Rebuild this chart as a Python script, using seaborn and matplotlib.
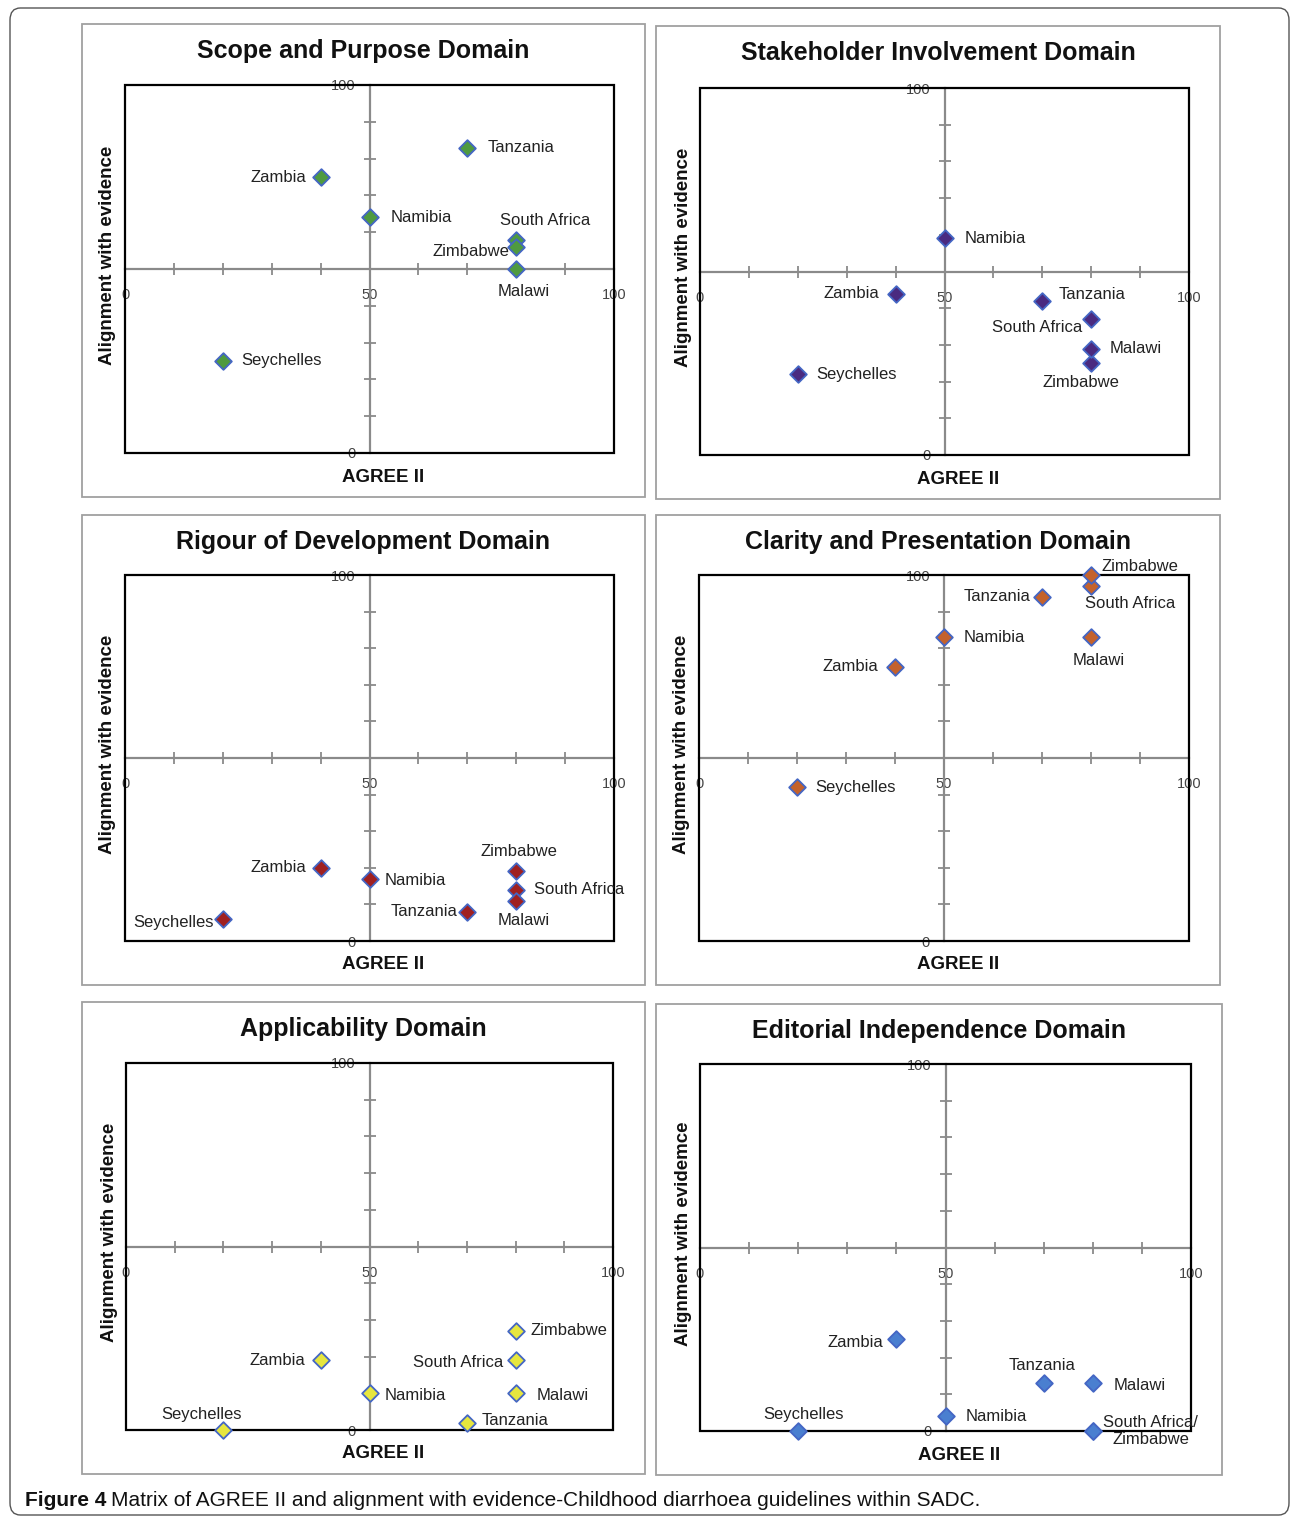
import numpy as np
import pandas as pd
import matplotlib
matplotlib.use("Agg")
import matplotlib.pyplot as plt
import seaborn as sns
from matplotlib.patches import Rectangle, FancyBboxPatch

# Dados
paises = ['Zambia', 'Namibia', 'Tanzania', 'South Africa', 'Zimbabwe', 'Malawi', 'Seychelles']

titulos = ['Scope and Purpose Domain', 'Stakeholder Involvement Domain',
           'Rigour of Development Domain', 'Clarity and Presentation Domain',
           'Applicability Domain', 'Editorial Independence Domain']

agree_scope = [40, 50, 70, 80, 80, 80, 20]
evid_scope = [75, 64, 83, 58, 56, 50, 25]

agree_stake = [40, 50, 70, 80, 80, 80, 20]
evid_stake = [44, 59, 42, 37, 25, 29, 22]

agree_rigour = [40, 50, 70, 80, 80, 80, 20]
evid_rigour = [20, 17, 8, 14, 19, 11, 6]

agree_clarity = [40, 50, 70, 80, 80, 80, 20]
evid_clarity = [75, 83, 94, 97, 100, 83, 42]

agree_applic = [40, 50, 70, 80, 80, 80, 20]
evid_applic = [19, 10, 2, 19, 27, 10, 0]

agree_edit = [40, 50, 70, 80, 80, 80, 20]
evid_edit = [25, 4, 13, 0, 0, 13, 0]

rotulos_edit = ['Zambia', 'Namibia', 'Tanzania', 'South Africa/\nZimbabwe', '', 'Malawi', 'Seychelles']

ylabels = ['Alignment with evidence'] * 5 + ['Alignment with evidemce']

# Estilo / layout
cores = ['#4f9a40', '#4a2a80', '#a02020', '#c4622c', '#e6e63e', '#4a7fd0']
borda_marcador = '#4466c4'

# caixa de cada painel (px): esquerda, direita, topo, base
caixas_eixos = [(125, 614, 85, 453), (700, 1189, 88, 455),
                (125, 614, 575, 941), (699, 1189, 575, 941),
                (126, 613, 1063, 1430), (700, 1191, 1064, 1431)]
caixas_paineis = [(82, 645, 24, 497), (656, 1220, 26, 499),
                  (82, 645, 515, 985), (656, 1220, 515, 985),
                  (82, 645, 1002, 1474), (656, 1222, 1004, 1475)]

# deslocamento dos rótulos (px, y para baixo) e alinhamento
desl = [
    [(-14, 0, 'right'), (21, 0, 'left'), (20, 0, 'left'), (29, -19, 'center'),
     (-7, 5, 'right'), (7, 22, 'center'), (18, 0, 'left')],
    [(-16, 0, 'right'), (20, 0, 'left'), (16, -6, 'left'), (-9, 8, 'right'),
     (-10, 19, 'center'), (18, 0, 'left'), (18, 0, 'left')],
    [(-14, 0, 'right'), (15, 2, 'left'), (-10, 0, 'right'), (18, 0, 'left'),
     (3, -20, 'center'), (7, 20, 'center'), (-9, 3, 'right')],
    [(-17, 0, 'right'), (20, 0, 'left'), (-12, 0, 'right'), (-6, 18, 'left'),
     (10, -9, 'left'), (8, 23, 'center'), (18, 0, 'left')],
    [(-16, 0, 'right'), (15, 2, 'left'), (15, -2, 'left'), (-12, 2, 'right'),
     (15, 0, 'left'), (21, 2, 'left'), (-22, -16, 'center')],
    [(-13, 3, 'right'), (20, 0, 'left'), (-2, -18, 'center'), (58, 0, 'center'),
     (0, 0, 'left'), (21, 2, 'left'), (5, -17, 'center')],
]

xs = [agree_scope, agree_stake, agree_rigour, agree_clarity, agree_applic, agree_edit]
ys = [evid_scope, evid_stake, evid_rigour, evid_clarity, evid_applic, evid_edit]
rotulos = [paises] * 5 + [rotulos_edit]

sns.set_style('white')
plt.rcParams['font.family'] = ['Liberation Sans', 'DejaVu Sans']

W, H = 1292, 1518
fig = plt.figure(figsize=(W / 100, H / 100), dpi=100)

# moldura externa arredondada
fig.add_artist(FancyBboxPatch((10 / W, 1 - 1515 / H), 1279 / W, 1507 / H,
                              boxstyle='round,pad=0,rounding_size=0.008',
                              transform=fig.transFigure, fill=False,
                              ec='#555555', lw=1.0))

cinza = '#8a8a8a'
for i in range(6):
    l, r, t, b = caixas_eixos[i]
    pl, pr, pt, pb = caixas_paineis[i]
    fig.add_artist(Rectangle((pl / W, 1 - pb / H), (pr - pl) / W, (pb - pt) / H,
                             transform=fig.transFigure, fill=False, ec='#a0a0a0', lw=1.3))
    ax = fig.add_axes([l / W, 1 - b / H, (r - l) / W, (b - t) / H])
    df = pd.DataFrame({'agree': xs[i], 'evid': ys[i], 'pais': rotulos[i]})
    sns.scatterplot(data=df, x='agree', y='evid', marker='D', s=72, color=cores[i],
                    edgecolor=borda_marcador, linewidth=1.3, clip_on=False, zorder=5, ax=ax)
    ax.set_xlim(0, 100)
    ax.set_ylim(0, 100)

    # eixos cruzados em 50
    ax.spines['left'].set_position(('data', 50))
    ax.spines['bottom'].set_position(('data', 50))
    for s in ['left', 'bottom']:
        ax.spines[s].set_color(cinza)
        ax.spines[s].set_linewidth(1.6)
    for s in ['top', 'right']:
        ax.spines[s].set_visible(False)
    ax.add_patch(Rectangle((0, 0), 1, 1, transform=ax.transAxes, fill=False,
                           ec='black', lw=1.6, zorder=4, clip_on=False))

    ax.set_xticks(range(0, 101, 10))
    ax.set_xticklabels(['0', '', '', '', '', '50', '', '', '', '', '100'])
    ax.set_yticks(range(0, 101, 10))
    ax.set_yticklabels(['0'] + [''] * 9 + ['100'])
    ax.tick_params(axis='x', bottom=True, direction='inout', length=8, width=1.3, color=cinza,
                   labelsize=10.5, labelcolor='#444444', pad=10)
    ax.tick_params(axis='y', left=True, direction='inout', length=8, width=1.3, color=cinza,
                   labelsize=10.5, labelcolor='#444444', pad=6)
    ax.set_xlabel('')
    ax.set_ylabel('')

    for (xv, yv, nome, (dx, dy, ha)) in zip(df['agree'], df['evid'], df['pais'], desl[i]):
        if nome:
            ax.annotate(nome, (xv, yv), xytext=(dx, -dy), textcoords='offset pixels',
                        ha=ha, va='center', fontsize=12, color='#222222',
                        multialignment='center', zorder=6, annotation_clip=False)

    fig.text(((pl + pr) / 2) / W, 1 - (pt + 27) / H, titulos[i], ha='center', va='center',
             fontsize=18, fontweight='bold', color='#111111')
    fig.text((l - 17) / W, 1 - ((t + b) / 2 - 14) / H, ylabels[i], rotation=90,
             ha='center', va='center', fontsize=13.5, fontweight='bold', color='#111111')
    fig.text(((l + r) / 2 + 14) / W, 1 - (b + 24) / H, 'AGREE II', ha='center',
             va='center', fontsize=13.5, fontweight='bold', color='#111111')

# legenda da figura
t1 = fig.text(25 / W, 1 - 1500 / H, 'Figure 4', ha='left', va='center', fontsize=15,
              fontweight='bold', color='#111111')
fig.canvas.draw()
bb = t1.get_window_extent()
fig.text(bb.x1 / W + 5 / W, 1 - 1500 / H,
         'Matrix of AGREE II and alignment with evidence-Childhood diarrhoea guidelines within SADC.',
         ha='left', va='center', fontsize=15, color='#111111')

fig.savefig('out.png', dpi=100, facecolor='white')
